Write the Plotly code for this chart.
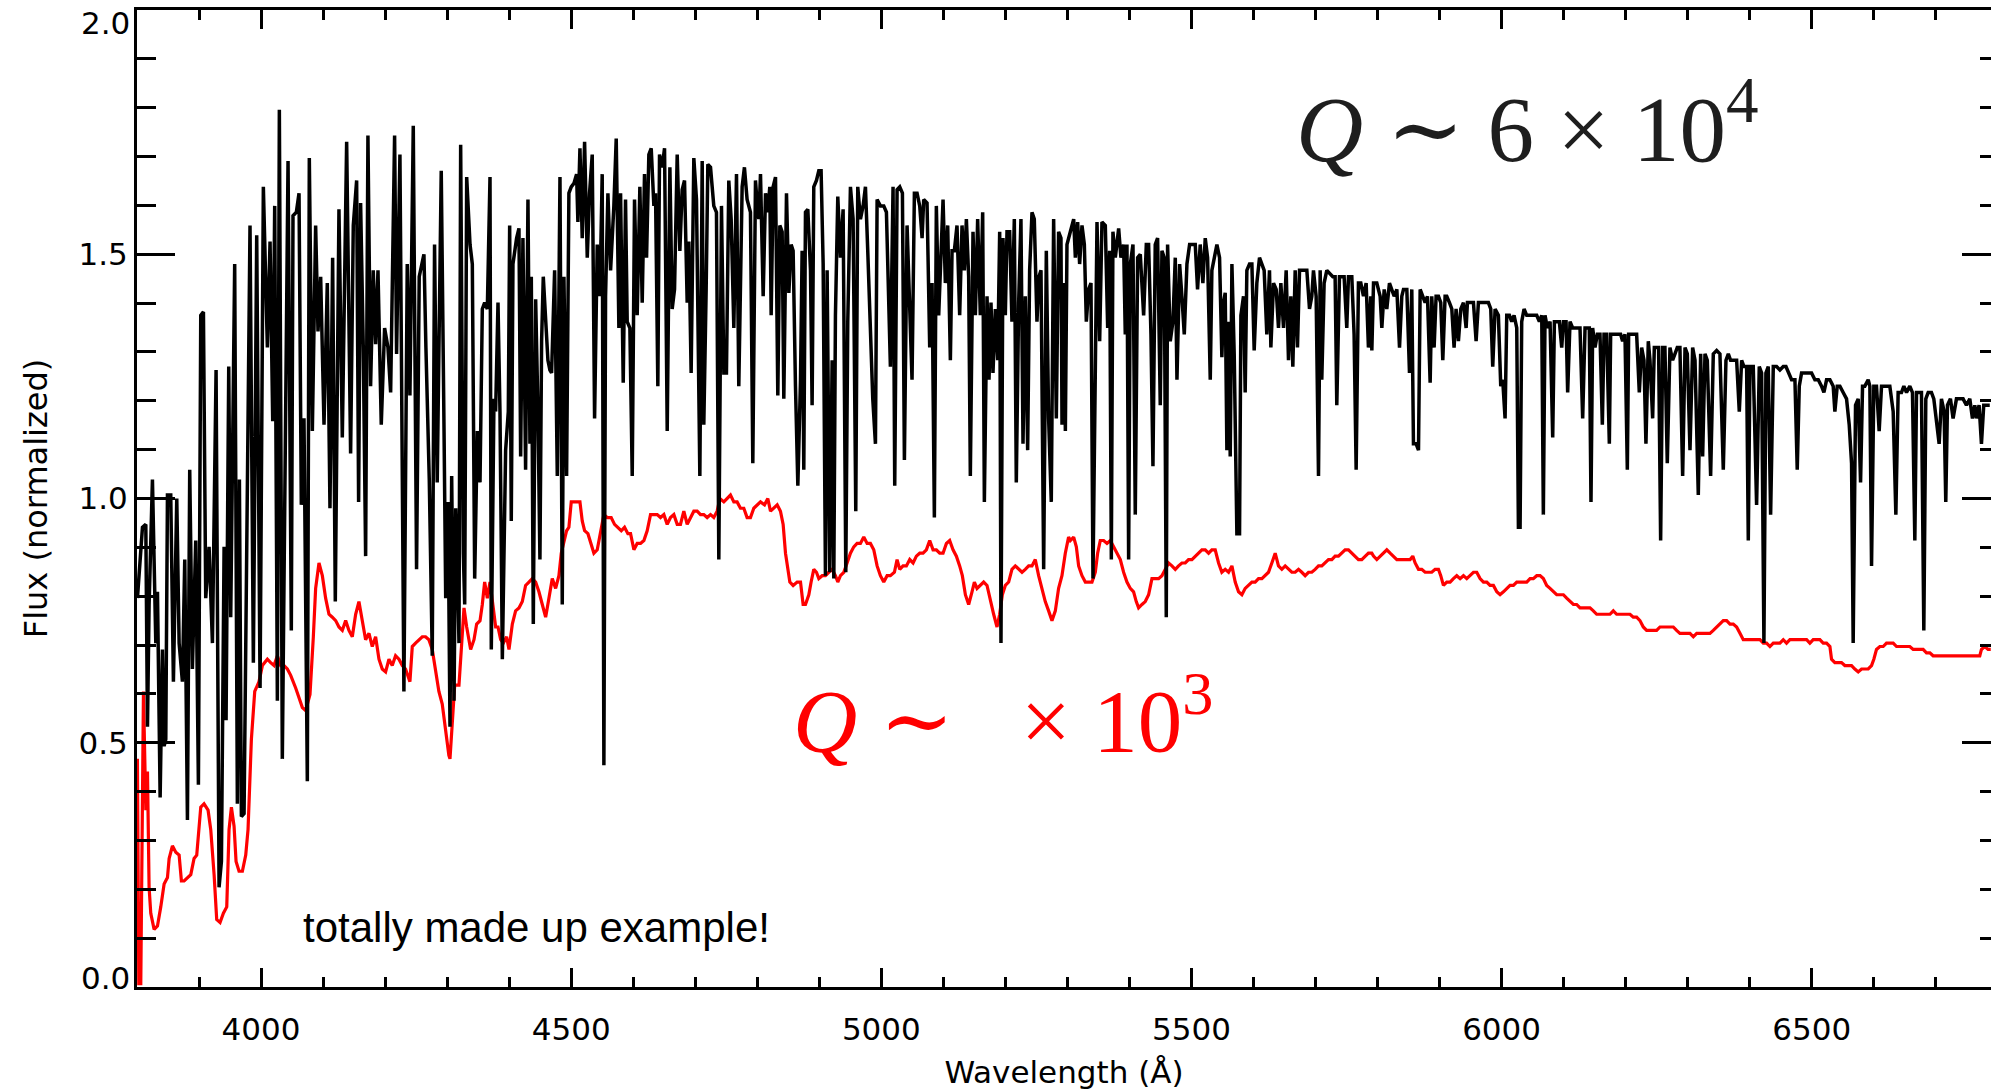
import plotly.graph_objects as go

# ---------------- data ----------------
# high-resolution spectrum (wavelength in Angstrom, normalized flux)
BLACK_SPECTRUM = [
    (3800.7,0.796),(3808.8,0.941),(3814.2,0.947),(3816.9,0.533),(3819.5,0.783),(3824.9,1.039),(3830.3,0.704),(3833.0,0.809),
    (3837.3,0.388),(3841.0,0.691),(3843.7,0.493),(3846.4,0.507),(3849.1,1.007),(3854.4,1.007),(3858.7,0.625),(3864.1,1.0),
    (3867.9,0.704),(3873.2,0.625),(3877.0,0.875),(3881.3,0.342),(3885.0,1.059),(3889.3,0.651),(3894.7,0.914),(3899.0,0.414),
    (3902.8,1.375),(3907.1,1.382),(3910.8,0.796),(3916.2,0.901),(3921.6,0.704),(3927.5,1.263),(3932.3,0.204),(3936.1,0.257),
    (3940.4,0.901),(3943.6,0.546),(3947.9,1.270),(3951.1,0.757),(3957.5,1.480),(3961.8,0.375),(3965.1,1.039),(3968.3,0.349),
    (3972.6,0.355),(3976.9,0.908),(3982.2,1.559),(3987.6,0.664),(3993.0,1.539),(3998.4,0.612),(4003.7,1.638),(4010.2,1.309),
    (4014.5,1.526),(4018.8,1.158),(4022.0,1.599),(4026.3,0.586),(4029.5,1.796),(4034.3,0.467),(4039.7,1.164),(4043.5,1.691),
    (4048.8,0.730),(4051.5,1.579),(4056.9,1.586),(4061.2,1.625),(4064.9,0.987),(4069.2,1.164),(4074.6,0.421),(4077.8,1.697),
    (4082.7,1.138),(4088.0,1.559),(4091.8,1.342),(4096.1,1.454),(4101.5,1.151),(4106.8,1.441),(4111.1,0.980),(4115.4,1.493),
    (4119.7,0.789),(4125.6,1.592),(4131.0,1.125),(4138.0,1.730),(4144.4,1.092),(4148.7,1.559),(4154.1,1.651),(4157.3,0.993),
    (4160.5,1.605),(4164.8,1.309),(4168.6,0.882),(4172.3,1.743),(4176.6,1.230),(4180.9,1.467),(4184.7,1.316),(4188.5,1.467),
    (4193.8,1.151),(4199.2,1.349),(4204.6,1.309),(4208.9,1.217),(4215.3,1.743),(4218.5,1.296),(4223.9,1.704),(4230.3,0.605),
    (4235.7,1.480),(4240.0,1.211),(4245.4,1.763),(4250.7,0.855),(4255.0,1.454),(4262.6,1.5),(4265.8,1.309),(4271.2,1.039),
    (4276.0,0.678),(4279.7,1.520),(4284.0,1.033),(4290.5,1.671),
    (4295.0,1.138),(4297.7,0.796),(4301.4,0.993),(4304.6,0.533),(4307.3,1.046),(4311.1,0.586),(4313.8,0.980),(4316.5,0.875),
    (4319.1,0.704),(4321.8,1.724),(4326.1,0.888),(4328.3,0.783),(4331.5,1.658),(4336.9,1.520),(4340.6,1.480),(4344.4,0.836),
    (4348.7,1.138),(4353.0,1.033),(4356.7,1.388),(4360.5,1.401),(4364.8,1.388),(4369.1,1.658),(4371.2,0.691),(4375.5,1.204),
    (4378.2,1.178),(4382.0,1.401),(4385.2,1.178),(4389.0,0.671),(4394.3,1.099),(4398.6,1.178),(4400.8,1.559),(4403.4,0.954),
    (4406.1,1.480),(4412.0,1.533),(4415.8,1.553),(4418.5,1.086),(4422.2,1.533),(4426.5,1.059),(4430.3,1.612),(4433.5,1.112),
    (4435.7,1.454),(4438.9,0.743),(4442.7,1.408),(4446.4,1.178),(4449.6,0.875),(4452.3,1.322),(4455.0,1.454),(4458.8,1.362),
    (4462.5,1.283),(4465.7,1.263),(4468.4,1.257),(4473.3,1.467),(4477.6,1.046),(4481.9,1.658),(4485.6,0.783),(4488.3,1.454),
    (4492.6,1.046),(4496.3,1.625),(4500.1,1.638),(4504.4,1.645),(4508.7,1.664),(4510.8,1.566),(4514.1,1.717),(4517.8,1.533),
    (4521.6,1.730),(4525.9,1.493),(4529.6,1.625),(4533.9,1.704),(4537.7,1.164),(4542.0,1.520),(4546.3,1.414),(4550.0,1.664),
    (4552.7,0.454),(4555.4,1.414),(4559.2,1.625),(4563.5,1.467),(4568.8,1.599),(4572.6,1.737),(4576.9,1.349),(4579.6,1.625),
    (4583.9,1.237),(4587.6,1.612),(4590.3,1.362),(4594.6,1.349),(4598.4,1.046),(4602.1,1.612),(4606.4,1.375),(4610.7,1.638),
    (4614.5,1.401),(4618.2,1.664),(4621.5,1.493),(4625.2,1.704),(4629.0,1.717),(4633.3,1.599),(4636.0,1.625),(4639.7,1.230),
    (4642.4,1.704),(4646.7,1.678),(4650.5,1.717),(4654.8,1.138),(4659.1,1.678),(4662.8,1.388),(4666.6,1.428),(4670.9,1.704),
    (4675.2,1.507),(4678.9,1.632),(4682.7,1.651),(4687.0,1.401),(4689.7,1.526),(4693.4,1.257),(4697.7,1.697),(4702.0,1.612),
    (4707.4,1.046),(4711.2,1.691),(4713.8,1.151),(4717.6,1.428),(4720.3,1.684),(4724.6,1.678),(4729.9,1.599),(4734.2,1.586),
    (4738.0,0.875),(4742.3,1.599),(4746.1,1.257),(4750.3,1.257),(4754.1,1.651),(4757.9,1.572),(4762.2,1.349),(4766.5,1.664),
    (4770.2,1.230),(4775.6,1.638),(4779.3,1.678),(4783.6,1.612),(4789.0,1.586),(4792.8,1.072),(4797.1,1.651),(4800.8,1.586),
    (4802.5,1.572),(4805.2,1.664),(4809.5,1.414),(4813.3,1.625),(4817.0,1.586),(4820.2,1.638),(4822.4,1.375),(4825.6,1.638),
    (4829.4,1.658),(4833.1,1.211),(4836.4,1.559),(4840.1,1.546),(4842.8,1.204),(4847.1,1.625),(4850.9,1.421),(4854.6,1.520),
    (4857.8,1.507),(4861.6,1.230),(4865.4,1.026),(4869.7,1.243),(4872.3,1.507),(4875.0,1.059),(4877.7,1.586),(4881.5,1.592),
    (4885.8,1.467),(4888.4,1.191),(4891.1,1.638),(4895.4,1.651),(4899.2,1.671),(4902.9,1.671),(4906.2,1.480),(4909.9,0.842),
    (4912.6,1.467),(4916.9,0.849),(4920.7,1.283),(4923.4,0.836),(4926.0,1.375),(4929.8,1.618),(4934.1,1.493),(4938.4,1.592),
    (4942.7,0.849),(4945.9,1.362),(4950.2,1.638),(4954.5,1.572),(4958.8,0.974),(4962.0,1.638),(4966.3,1.572),(4970.6,1.599),
    (4974.4,1.638),(4978.1,1.507),(4982.4,1.349),(4986.2,1.204),(4990.5,1.112),(4993.2,1.612),(4998.5,1.599),(5003.9,1.599),
    (5008.2,1.586),(5012.0,1.401),(5014.6,1.270),(5018.9,1.638),(5021.6,1.026),(5025.4,1.632),(5029.7,1.638),(5034.0,1.625),
    (5037.2,1.079),(5041.5,1.559),(5045.8,1.388),(5049.5,1.243),(5053.3,1.625),(5057.6,1.625),(5061.9,1.599),(5065.7,1.533),
    (5068.3,1.612),(5073.7,1.605),(5078.0,1.309),(5081.8,1.441),(5085.5,0.961),(5088.7,1.599),(5092.5,1.375),(5096.3,1.493),
    (5099.5,1.612),(5103.2,1.441),(5107.0,1.559),(5111.3,1.283),(5114.0,1.507),(5117.7,1.507),(5122.0,1.559),(5126.3,1.375),
    (5130.1,1.559),(5133.9,1.467),(5137.1,1.572),(5140.8,1.454),(5143.5,1.046),(5147.8,1.546),(5151.6,1.375),(5155.3,1.572),
    (5159.6,1.375),(5163.4,1.586),(5166.1,0.993),(5170.4,1.414),(5173.6,1.243),(5176.8,1.401),(5180.0,1.257),(5183.8,1.388),
    (5187.6,1.283),(5190.8,1.546),(5192.9,0.704),(5196.1,1.533),(5199.9,1.375),(5202.6,1.546),(5206.9,1.546),(5210.6,1.362),
    (5214.4,1.572),(5217.6,1.033),(5221.4,1.401),(5225.1,1.572),(5228.4,1.112),(5232.1,1.414),(5235.9,1.099),(5239.1,1.467),
    (5242.9,1.586),(5246.6,1.572),(5250.9,1.362),(5254.1,1.454),(5257.4,1.467),(5261.7,0.855),(5266.0,1.507),(5269.7,1.164),
    (5274.0,0.993),(5277.8,1.572),(5282.1,1.164),(5285.8,1.546),(5289.6,1.533),
    (5291.3,1.151),(5294.0,1.441),(5296.7,1.138),(5299.3,1.520),(5304.7,1.546),(5310.1,1.572),(5312.8,1.493),(5316.5,1.566),
    (5319.7,1.480),(5323.5,1.559),(5327.3,1.520),(5330.5,1.362),(5334.2,1.428),(5338.0,1.441),(5341.2,0.836),(5345.0,1.322),
    (5347.7,1.566),(5352.0,1.322),(5355.7,1.566),(5361.1,1.559),(5364.9,1.349),(5368.1,1.507),(5370.8,0.875),(5373.4,1.546),
    (5377.2,1.493),(5382.6,1.553),(5386.3,1.493),(5390.6,1.520),(5393.3,1.336),(5396.0,1.520),(5398.7,0.875),(5401.4,1.480),
    (5405.7,1.520),(5409.4,0.967),(5413.2,1.493),(5417.5,1.5),(5422.9,1.375),(5427.2,1.520),(5430.9,1.520),(5434.7,1.336),
    (5437.9,1.066),(5441.6,1.520),(5445.4,1.533),(5449.7,1.191),(5452.4,1.507),(5456.1,1.493),(5459.4,0.757),(5461.5,1.520),
    (5465.8,1.322),(5470.1,1.362),(5473.9,1.493),(5476.6,1.243),(5480.9,1.480),(5484.6,1.414),(5488.4,1.336),(5492.7,1.480),
    (5497.0,1.520),(5502.3,1.520),(5506.1,1.520),(5509.8,1.428),(5514.1,1.520),(5518.4,1.441),(5522.2,1.533),(5526.0,1.493),
    (5530.3,1.243),(5532.9,1.467),(5536.7,1.493),(5541.0,1.520),(5545.3,1.493),(5549.0,1.289),(5551.7,1.401),(5554.4,1.421),
    (5557.1,1.099),(5559.8,1.362),(5562.5,1.086),(5565.2,1.480),(5568.9,1.296),(5573.2,0.928),(5577.5,0.928),(5579.7,1.375),
    (5583.9,1.414),(5586.6,1.217),(5589.3,1.467),(5593.6,1.480),(5597.4,1.480),(5601.1,1.303),(5605.4,1.441),(5609.7,1.493),
    (5613.5,1.480),(5617.2,1.467),(5621.5,1.336),(5625.8,1.467),(5628.0,1.309),(5632.3,1.441),(5636.6,1.428),(5640.3,1.349),
    (5644.1,1.441),(5648.4,1.349),(5652.7,1.467),(5656.4,1.283),(5660.2,1.414),(5663.4,1.270),(5667.2,1.467),(5670.9,1.309),
    (5674.2,1.467),(5677.9,1.467),(5681.7,1.467),(5686.0,1.467),(5690.3,1.388),(5694.0,1.414),(5696.7,1.467),(5701.0,1.414),
    (5704.8,1.046),(5707.5,1.467),(5710.1,1.243),(5713.9,1.441),(5718.2,1.467),(5723.6,1.461),(5727.9,1.454),(5731.6,1.454),
    (5734.3,1.191),(5738.6,1.454),(5742.4,1.454),(5746.1,1.454),(5750.4,1.349),(5753.1,1.454),(5758.5,1.454),(5762.2,1.336),
    (5765.5,1.059),(5769.2,1.441),(5773.0,1.441),(5777.3,1.414),(5781.6,1.441),(5785.3,1.309),(5789.1,1.414),
    (5790.8,1.303),(5793.5,1.441),(5798.8,1.441),(5804.2,1.414),(5806.9,1.349),(5810.7,1.428),(5814.9,1.388),(5819.2,1.441),
    (5823.0,1.428),(5826.8,1.414),(5831.1,1.428),(5835.4,1.309),(5839.1,1.414),(5841.8,1.428),(5847.2,1.428),(5851.5,1.257),
    (5855.2,1.428),(5857.9,1.112),(5862.2,1.112),(5866.0,1.099),(5868.7,1.428),(5873.0,1.414),(5876.7,1.401),(5880.5,1.414),
    (5884.8,1.237),(5887.4,1.414),(5891.2,1.309),(5894.4,1.414),(5898.2,1.414),(5901.9,1.401),(5905.2,1.283),(5908.9,1.414),
    (5911.6,1.414),(5915.9,1.401),(5919.7,1.388),(5923.4,1.309),(5926.6,1.388),(5930.4,1.322),(5934.2,1.388),(5938.5,1.401),
    (5942.8,1.349),(5944.9,1.401),(5949.2,1.401),(5954.6,1.401),(5958.9,1.322),(5962.6,1.401),(5968.0,1.401),(5973.4,1.401),
    (5978.7,1.401),(5982.5,1.388),(5985.7,1.270),(5989.5,1.388),(5994.8,1.375),(5998.6,1.230),(6001.8,1.243),(6005.6,1.164),
    (6008.3,1.375),(6012.6,1.375),(6016.3,1.362),(6020.1,1.375),(6024.4,1.349),(6027.1,0.941),(6029.8,0.941),(6032.4,1.362),
    (6036.2,1.388),(6040.5,1.375),(6044.8,1.375),(6048.5,1.375),(6052.3,1.375),(6056.6,1.375),(6060.9,1.362),(6064.7,1.375),
    (6067.3,0.967),(6070.0,1.375),(6073.8,1.349),(6078.1,1.362),(6082.4,1.125),(6085.1,1.362),(6088.8,1.362),(6093.1,1.362),
    (6096.9,1.309),(6099.6,1.362),(6103.9,1.362),(6106.5,1.217),(6110.3,1.362),(6114.6,1.349),(6118.4,1.349),(6121.0,1.349),
    (6126.4,1.349),(6130.7,1.164),(6134.5,1.349),(6138.2,1.349),(6141.4,1.349),(6144.1,0.993),(6146.8,1.349),(6150.6,1.309),
    (6154.3,1.336),(6158.6,1.336),(6162.4,1.151),(6165.1,1.336),(6169.4,1.336),(6173.7,1.112),(6175.8,1.336),(6180.1,1.336),
    (6184.4,1.336),(6188.2,1.336),(6191.9,1.336),(6195.1,1.322),(6198.9,1.336),(6202.7,1.059),(6204.8,1.336),(6208.0,1.336),
    (6212.3,1.336),(6217.7,1.336),(6222.0,1.217),(6225.8,1.309),(6229.5,1.283),(6232.7,1.112),(6236.5,1.322),(6239.2,1.283),
    (6243.5,1.164),(6246.2,1.309),(6249.9,1.309),(6253.1,1.309),(6256.4,0.914),(6259.6,1.309),(6263.3,1.309),(6267.1,1.072),
    (6271.4,1.309),(6275.7,1.283),(6279.5,1.296),(6283.2,1.309),(6287.5,1.309),
    (6291.9,1.046),(6295.7,1.309),(6299.4,1.296),(6303.7,1.099),(6308.0,1.309),(6311.8,1.283),(6317.1,1.007),(6320.9,1.296),
    (6324.1,1.086),(6327.9,1.296),(6331.6,1.283),(6337.0,1.046),(6341.3,1.296),(6346.7,1.303),(6352.0,1.296),(6357.4,1.059),
    (6361.7,1.283),(6365.5,1.296),(6369.2,1.283),(6373.5,1.283),(6378.9,1.283),(6383.2,1.178),(6387.0,1.283),(6390.7,1.270),
    (6395.0,1.270),(6397.7,0.914),(6400.4,1.270),(6405.7,1.270),(6411.1,0.987),(6415.4,1.270),(6419.2,1.257),(6422.9,0.704),
    (6426.1,1.257),(6429.9,1.270),(6433.7,0.967),(6438.0,1.270),(6443.3,1.270),(6448.7,1.263),(6454.1,1.270),(6458.4,1.270),
    (6462.1,1.257),(6467.5,1.243),(6472.9,1.243),(6476.6,1.059),(6479.9,1.230),(6483.6,1.257),(6489.0,1.257),(6494.3,1.257),
    (6499.7,1.257),(6505.1,1.243),(6510.5,1.243),(6515.8,1.230),(6519.6,1.217),(6523.9,1.243),(6529.3,1.243),(6534.6,1.230),
    (6537.3,1.178),(6541.1,1.230),(6545.4,1.230),(6550.7,1.217),(6556.1,1.204),(6560.4,1.151),(6564.2,1.072),(6566.8,0.704),
    (6570.6,1.191),(6574.9,1.204),(6578.7,1.033),(6581.9,1.230),(6585.6,1.230),(6591.0,1.243),(6593.7,1.230),(6596.4,0.862),
    (6600.1,1.230),(6604.4,1.230),(6608.7,1.138),(6612.5,1.230),(6616.2,1.230),(6620.5,1.230),(6625.9,1.230),(6631.3,1.178),
    (6635.6,0.967),(6639.3,1.217),(6644.7,1.217),(6648.5,1.230),(6652.8,1.217),(6658.1,1.230),(6662.4,1.217),(6666.2,0.914),
    (6668.9,1.217),(6673.2,1.217),(6676.9,1.217),(6680.7,0.730),(6683.9,1.204),(6687.7,1.217),(6693.0,1.217),(6696.8,1.204),
    (6701.1,1.151),(6705.4,1.112),(6709.1,1.204),(6713.4,1.178),(6716.1,0.993),(6718.8,1.191),(6723.6,1.204),(6727.9,1.164),
    (6733.3,1.204),(6738.7,1.204),(6744.0,1.204),(6749.4,1.191),(6754.8,1.204),(6759.1,1.164),(6762.9,1.191),(6765.5,1.164),
    (6769.8,1.191),(6773.6,1.112),(6777.3,1.191),(6781.6,1.191),(6787.0,1.191),
]

# low-resolution spectrum
RED_SPECTRUM = [
    (3800.7,0.467),(3802.9,0.007),(3806.1,0.007),(3810.4,0.605),(3814.2,0.362),(3816.9,0.441),(3819.5,0.204),(3822.2,0.151),
    (3827.6,0.118),(3833.0,0.125),(3838.3,0.164),(3843.7,0.211),(3849.1,0.224),(3851.8,0.263),(3857.1,0.289),(3862.5,0.276),
    (3867.9,0.270),(3871.6,0.217),(3875.9,0.217),(3881.3,0.224),(3886.7,0.230),(3892.0,0.263),(3896.3,0.270),(3902.8,0.368),
    (3908.1,0.375),(3914.6,0.362),(3918.9,0.322),(3924.3,0.230),(3928.5,0.138),(3933.9,0.132),(3939.3,0.151),(3944.7,0.164),
    (3948.4,0.322),(3952.2,0.368),(3956.5,0.329),(3959.7,0.257),(3964.5,0.237),(3969.9,0.237),(3975.3,0.270),(3979.0,0.322),
    (3984.4,0.507),(3989.8,0.605),(3996.7,0.625),(4002.1,0.658),(4010.2,0.671),(4015.5,0.664),(4020.9,0.658),(4026.3,0.678),
    (4031.7,0.658),(4037.0,0.658),(4042.4,0.651),(4047.8,0.638),(4052.1,0.625),(4055.8,0.612),(4061.2,0.592),(4066.6,0.572),
    (4071.9,0.566),(4078.9,0.599),(4084.3,0.717),(4088.0,0.816),(4093.4,0.868),(4098.8,0.842),(4104.1,0.796),(4109.5,0.763),
    (4114.9,0.757),(4120.3,0.750),(4125.6,0.737),(4131.0,0.730),(4136.4,0.750),(4141.7,0.730),(4147.1,0.717),(4152.5,0.763),
    (4157.8,0.789),(4163.2,0.750),(4168.6,0.711),(4174.0,0.724),(4179.3,0.697),(4184.7,0.717),(4190.1,0.671),(4195.4,0.651),
    (4200.8,0.645),(4206.2,0.671),(4211.5,0.658),(4216.9,0.678),(4222.3,0.671),(4227.7,0.658),(4233.0,0.651),(4240.0,0.625),
    (4243.8,0.697),(4249.1,0.704),(4254.5,0.711),(4259.9,0.717),(4265.2,0.717),(4270.6,0.711),(4276.0,0.691),(4281.4,0.651),
    (4286.7,0.605),(4292.1,0.579),(4297.5,0.520),(4302.8,0.474),
    (4304.6,0.467),(4308.4,0.546),(4312.2,0.618),(4319.1,0.618),(4322.9,0.704),(4327.2,0.776),(4331.5,0.737),(4337.9,0.691),
    (4343.3,0.711),(4347.6,0.743),(4353.0,0.750),(4356.7,0.783),(4360.5,0.829),(4364.8,0.796),(4369.1,0.829),(4372.8,0.796),
    (4378.2,0.737),(4382.0,0.737),(4386.3,0.711),(4390.6,0.704),(4395.9,0.717),(4399.7,0.691),(4405.1,0.743),(4410.4,0.770),
    (4415.8,0.776),(4421.2,0.789),(4426.5,0.822),(4431.9,0.829),(4437.3,0.836),(4442.7,0.829),(4448.0,0.809),(4453.4,0.783),
    (4458.8,0.757),(4464.1,0.796),(4469.5,0.836),(4474.9,0.816),(4480.2,0.842),(4484.0,0.888),(4488.3,0.914),(4492.6,0.934),
    (4496.3,0.941),(4500.1,0.993),(4504.4,0.993),(4509.8,0.993),(4514.1,0.993),(4517.8,0.954),(4521.6,0.934),(4527.0,0.928),
    (4531.3,0.908),(4536.6,0.888),(4542.0,0.895),(4547.4,0.928),(4552.7,0.967),(4558.1,0.961),(4564.5,0.961),(4569.9,0.947),
    (4575.3,0.941),(4580.7,0.934),(4586.0,0.941),(4591.4,0.928),(4595.7,0.928),(4601.1,0.895),(4606.4,0.908),(4611.8,0.908),
    (4617.2,0.914),(4622.5,0.934),(4627.9,0.967),(4633.3,0.967),(4638.7,0.967),(4644.0,0.961),(4649.4,0.967),(4654.8,0.947),
    (4660.1,0.961),(4665.5,0.967),(4670.9,0.947),(4676.2,0.947),(4681.6,0.974),(4687.0,0.947),(4692.4,0.961),(4697.7,0.974),
    (4703.1,0.974),(4708.5,0.967),(4713.8,0.967),(4719.2,0.961),(4724.6,0.967),(4729.9,0.961),(4735.3,0.974),(4739.6,1.0),
    (4746.1,0.993),(4751.4,1.0),(4756.8,1.007),(4762.2,0.993),(4767.5,0.993),(4772.9,0.980),(4778.3,0.980),(4783.6,0.961),
    (4789.0,0.961),(4794.4,0.980),(4799.8,0.987),
    (4805.2,0.993),(4811.7,0.987),(4817.0,1.0),(4821.3,0.974),(4826.7,0.980),(4832.1,0.987),(4837.4,0.974),(4841.7,0.947),
    (4845.5,0.888),(4848.2,0.862),(4852.5,0.829),(4857.8,0.822),(4864.3,0.829),(4869.7,0.829),(4873.9,0.783),(4877.7,0.783),
    (4883.1,0.803),(4886.8,0.829),(4891.1,0.855),(4895.4,0.849),(4899.2,0.836),(4904.6,0.842),(4909.9,0.842),(4915.3,0.849),
    (4920.7,0.855),(4926.0,0.842),(4929.8,0.829),(4934.1,0.842),(4939.5,0.849),(4944.8,0.868),(4950.2,0.888),(4955.6,0.901),
    (4960.9,0.908),(4966.3,0.908),(4971.7,0.921),(4977.1,0.908),(4982.4,0.908),(4987.8,0.895),(4993.2,0.862),(4998.5,0.842),
    (5003.9,0.829),(5009.3,0.842),(5014.6,0.842),(5021.1,0.849),(5025.4,0.875),(5029.7,0.855),(5035.0,0.862),(5040.4,0.862),
    (5045.8,0.875),(5051.2,0.868),(5056.5,0.882),(5061.9,0.888),(5067.3,0.888),(5072.6,0.895),(5078.0,0.914),(5083.4,0.895),
    (5088.7,0.895),(5094.1,0.888),(5099.5,0.888),(5104.9,0.908),(5110.2,0.914),(5115.6,0.895),(5121.0,0.882),(5126.3,0.862),
    (5130.6,0.842),(5135.5,0.803),(5140.8,0.783),(5146.2,0.809),(5150.0,0.829),(5154.3,0.816),(5159.6,0.822),(5165.0,0.829),
    (5170.4,0.822),(5175.7,0.789),(5181.1,0.763),(5186.5,0.737),(5190.8,0.763),(5195.1,0.803),(5199.9,0.822),(5205.3,0.829),
    (5210.6,0.855),(5216.0,0.862),(5221.4,0.855),(5226.8,0.849),(5232.1,0.855),(5237.5,0.862),(5242.9,0.862),(5248.2,0.875),
    (5253.6,0.842),(5259.0,0.816),(5264.3,0.789),(5269.7,0.770),(5275.1,0.750),(5280.5,0.770),(5285.8,0.816),(5291.2,0.842),
    (5296.6,0.888),(5301.9,0.921),
    (5304.7,0.914),(5310.1,0.921),(5314.4,0.901),(5318.1,0.862),(5323.5,0.842),(5328.9,0.829),(5334.2,0.829),(5339.6,0.829),
    (5345.0,0.849),(5348.7,0.888),(5353.0,0.914),(5358.4,0.914),(5363.8,0.908),(5369.2,0.914),(5374.5,0.901),(5379.9,0.888),
    (5385.3,0.875),(5390.6,0.849),(5396.0,0.829),(5401.4,0.816),(5406.7,0.809),(5411.0,0.789),(5414.8,0.776),(5420.2,0.783),
    (5425.5,0.789),(5430.9,0.803),(5436.3,0.836),(5441.6,0.836),(5447.0,0.836),(5452.4,0.842),(5457.8,0.855),(5463.1,0.868),
    (5468.5,0.862),(5473.9,0.855),(5479.2,0.862),(5484.6,0.868),(5490.0,0.868),(5495.3,0.875),(5500.7,0.875),(5506.1,0.882),
    (5511.5,0.888),(5516.8,0.895),(5522.2,0.895),(5527.6,0.888),(5532.9,0.895),(5538.3,0.895),(5543.7,0.868),(5549.0,0.849),
    (5554.4,0.855),(5559.8,0.849),(5565.2,0.862),(5570.5,0.829),(5575.9,0.809),(5581.3,0.803),(5586.6,0.816),(5592.0,0.822),
    (5597.4,0.829),(5602.7,0.829),(5608.1,0.836),(5613.5,0.836),(5618.9,0.842),(5624.2,0.849),(5629.6,0.868),(5635.0,0.888),
    (5640.3,0.862),(5645.7,0.855),(5651.1,0.862),(5656.4,0.855),(5661.8,0.849),(5667.2,0.849),(5672.6,0.855),(5677.9,0.849),
    (5683.3,0.842),(5688.7,0.849),(5694.0,0.849),(5699.4,0.855),(5704.8,0.862),(5710.1,0.862),(5715.5,0.868),(5720.9,0.875),
    (5726.3,0.875),(5731.6,0.882),(5737.0,0.882),(5742.4,0.888),(5747.7,0.895),(5753.1,0.895),(5758.5,0.888),(5763.8,0.882),
    (5769.2,0.875),(5774.6,0.875),(5779.9,0.882),(5785.3,0.888),(5790.7,0.888),
    (5793.5,0.882),(5798.8,0.875),(5804.2,0.882),(5809.6,0.888),(5814.9,0.895),(5820.3,0.888),(5825.7,0.882),(5831.1,0.875),
    (5836.4,0.875),(5841.8,0.875),(5847.2,0.875),(5852.5,0.875),(5856.8,0.882),(5860.6,0.868),(5866.0,0.855),(5871.3,0.855),
    (5876.7,0.849),(5882.1,0.849),(5887.4,0.849),(5892.8,0.855),(5898.2,0.855),(5901.9,0.842),(5906.2,0.822),(5911.6,0.829),
    (5917.0,0.829),(5922.3,0.836),(5927.7,0.842),(5933.1,0.836),(5938.5,0.842),(5943.8,0.836),(5949.2,0.842),(5954.6,0.849),
    (5959.9,0.849),(5965.3,0.836),(5970.7,0.829),(5976.1,0.829),(5981.4,0.822),(5986.8,0.822),(5992.2,0.809),(5997.5,0.803),
    (6002.9,0.809),(6008.3,0.816),(6013.6,0.822),(6019.0,0.822),(6024.4,0.829),(6029.8,0.829),(6035.1,0.829),(6040.5,0.829),
    (6045.9,0.836),(6051.2,0.836),(6056.6,0.842),(6062.0,0.842),(6067.3,0.836),(6072.7,0.822),(6078.1,0.816),(6083.5,0.809),
    (6088.8,0.803),(6094.2,0.803),(6099.6,0.803),(6104.9,0.796),(6110.3,0.789),(6115.7,0.783),(6121.0,0.783),(6126.4,0.776),
    (6131.8,0.776),(6137.2,0.776),(6142.5,0.776),(6147.9,0.770),(6153.3,0.763),(6158.6,0.763),(6164.0,0.763),(6169.4,0.763),
    (6174.7,0.763),(6180.1,0.770),(6185.5,0.763),(6190.9,0.763),(6196.2,0.763),(6201.6,0.763),(6207.0,0.763),(6212.3,0.757),
    (6217.7,0.757),(6223.1,0.750),(6228.4,0.737),(6233.8,0.730),(6239.2,0.730),(6244.6,0.730),(6249.9,0.730),(6255.3,0.737),
    (6260.7,0.737),(6266.0,0.737),(6271.4,0.737),(6276.8,0.737),(6282.1,0.730),(6287.5,0.724),
    (6293.0,0.724),(6298.3,0.724),(6303.7,0.724),(6309.1,0.717),(6314.5,0.724),(6319.8,0.724),(6325.2,0.724),(6330.6,0.724),
    (6335.9,0.724),(6341.3,0.730),(6346.7,0.737),(6352.0,0.743),(6357.4,0.750),(6362.8,0.750),(6368.2,0.743),(6373.5,0.743),
    (6378.9,0.737),(6384.3,0.724),(6389.6,0.711),(6395.0,0.711),(6400.4,0.711),(6405.7,0.711),(6411.1,0.711),(6416.5,0.711),
    (6421.9,0.704),(6427.2,0.704),(6432.6,0.697),(6438.0,0.704),(6443.3,0.704),(6448.7,0.704),(6454.1,0.711),(6459.4,0.704),
    (6464.8,0.711),(6470.2,0.711),(6475.6,0.711),(6480.9,0.711),(6486.3,0.711),(6491.7,0.711),(6497.0,0.704),(6502.4,0.711),
    (6507.8,0.711),(6513.1,0.711),(6518.5,0.704),(6523.9,0.704),(6529.3,0.697),(6531.9,0.671),(6537.3,0.664),(6542.7,0.664),
    (6548.0,0.664),(6553.4,0.658),(6558.8,0.658),(6564.2,0.658),(6569.5,0.651),(6574.9,0.645),(6580.3,0.651),(6585.6,0.651),
    (6591.0,0.651),(6596.4,0.658),(6600.1,0.671),(6604.4,0.691),(6609.8,0.697),(6615.2,0.697),(6620.5,0.704),(6625.9,0.704),
    (6631.3,0.704),(6636.7,0.697),(6642.0,0.697),(6647.4,0.697),(6652.8,0.697),(6658.1,0.697),(6663.5,0.691),(6668.9,0.691),
    (6674.2,0.691),(6679.6,0.691),(6685.0,0.684),(6690.4,0.684),(6695.7,0.678),(6701.1,0.678),(6706.5,0.678),(6711.8,0.678),
    (6717.2,0.678),(6722.6,0.678),(6727.9,0.678),(6733.3,0.678),(6738.7,0.678),(6744.0,0.678),(6749.4,0.678),(6754.8,0.678),
    (6760.2,0.678),(6765.5,0.678),(6770.9,0.678),(6773.6,0.691),(6778.9,0.697),(6784.3,0.691),(6788.6,0.691),
]

X_RANGE = [3800, 6789]
Y_RANGE = [0.0, 2.0]
Y_TICKS = [0.5, 1.0, 1.5]
Y_TICK_TEXT = ["0.5", "1.0", "1.5"]
Y_END_LABELS = [(2.0, "2.0"), (0.0, "0.0")]

black_wl = [p[0] for p in BLACK_SPECTRUM]
black_fl = [p[1] for p in BLACK_SPECTRUM]
red_wl = [p[0] for p in RED_SPECTRUM]
red_fl = [p[1] for p in RED_SPECTRUM]

TICK_FONT = dict(family="DejaVu Sans", size=31, color="black")
XTITLE_FONT = dict(family="DejaVu Sans", size=31, color="black")
YTITLE_FONT = dict(family="DejaVu Sans", size=32, color="black")

fig = go.Figure()
fig.add_trace(go.Scatter(x=red_wl, y=red_fl, mode="lines",
                         line=dict(color="#ff0000", width=3.2), showlegend=False, hoverinfo="skip"))
fig.add_trace(go.Scatter(x=black_wl, y=black_fl, mode="lines",
                         line=dict(color="black", width=3.5), showlegend=False, hoverinfo="skip"))
# trace that carries the mirrored right-hand tick axis (no visible marks)
fig.add_trace(go.Scatter(x=[X_RANGE[0]], y=[None], yaxis="y2", mode="lines",
                         showlegend=False, hoverinfo="skip"))

fig.update_layout(
    width=1991, height=1092,
    margin=dict(l=137, r=0, t=10, b=105),
    paper_bgcolor="white", plot_bgcolor="white",
    xaxis=dict(
        range=X_RANGE, showgrid=False, zeroline=False,
        showline=True, linecolor="black", linewidth=3, mirror="ticks",
        ticks="inside", tickmode="linear", tick0=4000, dtick=500,
        ticklen=19, tickwidth=2.5, tickcolor="black",
        minor=dict(ticks="inside", tickmode="linear", tick0=3800, dtick=100,
                   ticklen=10, tickwidth=2.5, tickcolor="black", showgrid=False),
        tickfont=TICK_FONT, ticklabelstandoff=13,
        title=dict(text="Wavelength (Å)", font=XTITLE_FONT, standoff=16),
    ),
    yaxis=dict(
        range=Y_RANGE, showgrid=False, zeroline=False,
        showline=True, linecolor="black", linewidth=3, mirror=False,
        ticks="inside", tickmode="array", tickvals=Y_TICKS, ticktext=Y_TICK_TEXT,
        ticklen=38, tickwidth=2.5, tickcolor="black",
        minor=dict(ticks="inside", tickmode="linear", tick0=0, dtick=0.1,
                   ticklen=19, tickwidth=2.5, tickcolor="black", showgrid=False),
        tickfont=TICK_FONT, ticklabelstandoff=0,
        title=dict(text="Flux (normalized)", font=YTITLE_FONT, standoff=22),
    ),
    yaxis2=dict(
        range=Y_RANGE, overlaying="y", side="right", anchor="x",
        showgrid=False, zeroline=False, showline=False, showticklabels=False,
        ticks="inside", tickmode="linear", tick0=0, dtick=0.5,
        ticklen=29, tickwidth=2.5, tickcolor="black",
        minor=dict(ticks="inside", tickmode="linear", tick0=0, dtick=0.1,
                   ticklen=11, tickwidth=2.5, tickcolor="black", showgrid=False),
    ),
)

annotations = []
for yv, txt in Y_END_LABELS:
    annotations.append(dict(x=0, xref="paper", y=yv + (-0.027 if yv > 1 else 0.018), yref="y",
                            text=txt, showarrow=False, xanchor="right", yanchor="middle",
                            xshift=-5, font=TICK_FONT))

annotations.append(dict(x=4064, y=0.07, xref="x", yref="y", xanchor="left", yanchor="bottom",
                        text="totally made up example!", showarrow=False,
                        font=dict(family="Liberation Sans", size=42, color="black")))
annotations.append(dict(x=5666, y=1.645, xref="x", yref="y", xanchor="left", yanchor="bottom",
                        text="<i>Q</i> \u223c 6 \u00d7 10<sup>4</sup>", showarrow=False,
                        font=dict(family="Liberation Serif, DejaVu Serif, serif", size=93, color="#1e1e1e")))
annotations.append(dict(x=4855, y=0.44, xref="x", yref="y", xanchor="left", yanchor="bottom",
                        text="<i>Q</i> \u223c \u00a0 \u00d7 10<sup>3</sup>", showarrow=False,
                        font=dict(family="Liberation Serif, DejaVu Serif, serif", size=89, color="#ff0000")))
fig.update_layout(annotations=annotations)

fig.write_html("out.html")
